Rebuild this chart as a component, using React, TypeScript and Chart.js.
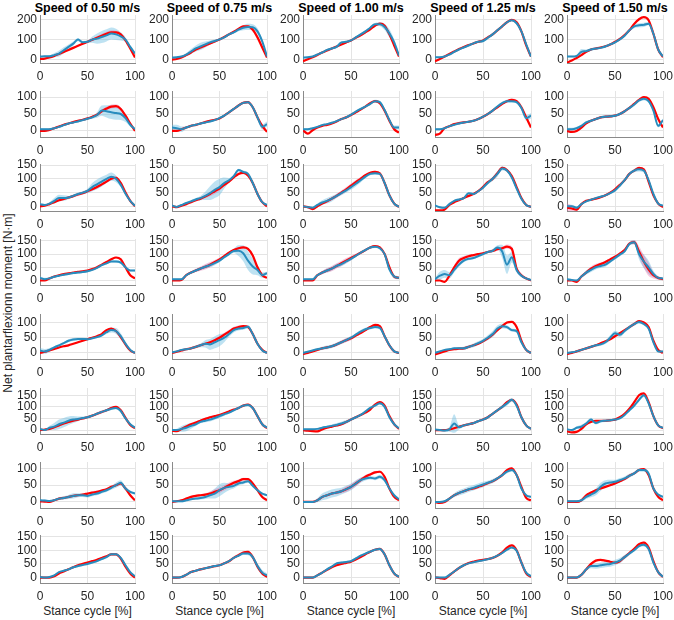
import React, { useEffect, useRef } from "react";
import { Chart, registerables } from "chart.js";

Chart.register(...registerables);

// ---------------- DATA ----------------
const pct = [0, 5, 10, 15, 20, 25, 30, 35, 40, 45, 50, 55, 60, 65, 70, 75, 80, 85, 90, 95, 100];
const speeds = ["0.50", "0.75", "1.00", "1.25", "1.50"];
const xTicks = [0, 50, 100];
const rowTicks = [
  [0, 100, 200],
  [0, 50, 100],
  [0, 50, 100, 150],
  [0, 50, 100, 150],
  [0, 50, 100],
  [0, 50, 100, 150],
  [0, 50, 100],
  [0, 50, 100, 150],
];
const rowYMin = [-17, -18, -17, -17, -20, -17, -18, -20];
const rowYMax = [221, 118, 154, 157, 128, 181, 119, 156];

// speed 0.50 m/s (rows 1..8)
const red050 = [
  [3, 5, 10, 18, 28, 38, 48, 58, 68, 78, 88, 98, 108, 118, 128, 135, 135, 125, 95, 55, 10],
  [0, 0, 3, 8, 13, 18, 22, 26, 30, 33, 37, 42, 48, 58, 66, 72, 73, 65, 45, 22, 0],
  [0, 2, 8, 15, 22, 27, 32, 37, 43, 48, 55, 62, 70, 80, 90, 100, 104, 85, 50, 20, 0],
  [0, 0, 8, 15, 20, 24, 27, 30, 33, 35, 38, 43, 50, 60, 70, 80, 87, 80, 50, 20, 8],
  [0, 4, 8, 13, 18, 22, 25, 30, 35, 40, 45, 50, 55, 62, 75, 80, 72, 52, 28, 8, 0],
  [0, 2, 5, 12, 20, 28, 35, 40, 45, 50, 55, 62, 70, 78, 85, 95, 100, 85, 52, 22, 8],
  [2, 1, 0, 5, 10, 12, 15, 18, 20, 22, 25, 28, 30, 34, 38, 45, 50, 55, 40, 20, 5],
  [0, 0, 0, 5, 15, 22, 30, 38, 45, 50, 55, 60, 65, 72, 78, 85, 85, 70, 40, 15, 0],
];
const blue050 = [
  [15, 16, 16, 22, 30, 46, 63, 79, 99, 86, 88, 99, 104, 112, 120, 129, 125, 115, 99, 63, 30],
  [5, 5, 5, 8, 12, 17, 22, 25, 28, 32, 36, 40, 47, 60, 58, 55, 53, 50, 38, 18, 5],
  [8, 5, 10, 20, 30, 30, 32, 38, 45, 50, 56, 70, 80, 90, 100, 108, 100, 78, 46, 20, 2],
  [10, 5, 8, 14, 18, 22, 25, 28, 30, 32, 35, 40, 48, 58, 65, 72, 72, 68, 50, 38, 38],
  [8, 5, 10, 18, 25, 32, 40, 44, 46, 46, 45, 48, 52, 58, 68, 75, 72, 55, 30, 10, 0],
  [5, 0, 10, 15, 25, 32, 40, 45, 48, 52, 55, 62, 70, 78, 85, 92, 95, 82, 50, 25, 10],
  [5, 4, 3, 5, 10, 12, 15, 18, 20, 20, 18, 22, 25, 30, 35, 42, 50, 57, 40, 30, 25],
  [2, 0, 2, 8, 20, 25, 30, 38, 42, 46, 50, 55, 60, 68, 75, 85, 85, 72, 45, 20, 5],
];
const blueSd050 = [
  [3, 4, 5, 10, 15, 15, 12, 10, 8, 6, 6, 15, 25, 30, 30, 30, 28, 20, 12, 8, 5],
  [3, 3, 3, 3, 3, 3, 3, 3, 3, 3, 3, 4, 8, 15, 18, 20, 20, 18, 12, 6, 3],
  [3, 3, 5, 10, 12, 10, 6, 5, 5, 5, 8, 15, 18, 18, 15, 15, 12, 8, 5, 3, 3],
  [6, 5, 4, 4, 4, 4, 4, 4, 4, 4, 4, 4, 4, 4, 4, 4, 5, 5, 5, 4, 4],
  [8, 8, 6, 4, 4, 4, 5, 5, 4, 4, 4, 4, 4, 5, 6, 8, 10, 10, 8, 5, 3],
  [3, 3, 8, 15, 20, 20, 18, 15, 10, 6, 5, 5, 5, 6, 6, 6, 6, 5, 4, 3, 3],
  [3, 3, 3, 3, 4, 5, 6, 8, 6, 5, 5, 5, 5, 5, 5, 6, 8, 8, 6, 4, 3],
  [3, 3, 3, 3, 3, 4, 4, 4, 4, 4, 4, 4, 4, 4, 4, 4, 4, 4, 4, 3, 3],
];
const redSd050 = [
  [2, 2, 2, 2, 3, 3, 3, 3, 3, 3, 4, 6, 8, 10, 10, 10, 8, 6, 4, 3, 3],
  [2, 2, 2, 2, 2, 2, 2, 2, 2, 2, 2, 3, 3, 4, 5, 6, 6, 5, 3, 2, 2],
  [2, 2, 2, 3, 3, 3, 4, 5, 5, 5, 5, 5, 5, 5, 5, 5, 5, 4, 3, 2, 2],
  [2, 2, 2, 2, 2, 2, 2, 2, 2, 2, 2, 2, 3, 3, 3, 3, 3, 3, 3, 2, 2],
  [2, 2, 2, 2, 2, 2, 2, 2, 2, 2, 2, 2, 3, 3, 3, 3, 3, 3, 2, 2, 2],
  [2, 2, 2, 2, 3, 3, 3, 3, 3, 3, 3, 4, 6, 6, 5, 4, 3, 3, 3, 2, 2],
  [2, 2, 2, 2, 2, 2, 2, 2, 2, 3, 3, 4, 4, 4, 3, 3, 3, 3, 2, 2, 2],
  [2, 2, 2, 2, 2, 2, 2, 2, 2, 2, 2, 2, 2, 2, 2, 2, 2, 2, 2, 2, 2],
];

// speed 0.75 m/s
const red075 = [
  [0, 3, 10, 22, 35, 50, 60, 70, 80, 90, 100, 112, 125, 138, 152, 165, 165, 148, 110, 60, 10],
  [0, 0, 5, 10, 15, 18, 22, 26, 30, 33, 37, 45, 55, 65, 75, 83, 85, 70, 40, 15, -3],
  [0, -3, 2, 8, 15, 22, 28, 36, 45, 55, 65, 78, 90, 105, 118, 122, 112, 85, 45, 15, 0],
  [0, 0, 2, 20, 30, 38, 45, 52, 60, 70, 80, 92, 105, 115, 122, 125, 120, 95, 50, 20, 10],
  [0, 4, 8, 12, 15, 20, 25, 30, 35, 42, 50, 60, 70, 80, 85, 88, 85, 62, 30, 10, 0],
  [-3, -5, 5, 15, 25, 32, 40, 48, 55, 60, 65, 72, 80, 88, 95, 105, 110, 95, 60, 25, 8],
  [0, 2, 5, 10, 15, 18, 20, 22, 25, 30, 35, 42, 50, 57, 62, 68, 68, 55, 35, 15, 5],
  [0, 0, 2, 10, 20, 25, 30, 34, 38, 42, 45, 52, 60, 72, 82, 92, 94, 75, 40, 15, 2],
];
const blue075 = [
  [10, 12, 15, 25, 40, 55, 65, 75, 85, 92, 100, 110, 125, 135, 148, 158, 162, 160, 140, 90, 15],
  [10, 8, 5, 10, 15, 18, 22, 25, 28, 32, 38, 45, 55, 65, 75, 83, 85, 70, 40, 12, 20],
  [3, -2, 5, 12, 18, 25, 30, 38, 48, 60, 70, 85, 95, 110, 132, 125, 118, 85, 45, 15, 5],
  [5, 5, 5, 20, 30, 38, 45, 52, 58, 66, 75, 88, 100, 112, 113, 103, 75, 53, 40, 20, 28],
  [2, 5, 10, 12, 15, 20, 25, 30, 28, 35, 42, 50, 62, 75, 80, 82, 86, 62, 30, 8, 0],
  [0, 0, 5, 10, 18, 25, 35, 40, 45, 52, 60, 68, 75, 85, 95, 105, 108, 95, 60, 25, 10],
  [2, 2, 2, 5, 8, 10, 12, 15, 20, 25, 35, 42, 45, 48, 55, 58, 62, 48, 35, 25, 20],
  [0, 0, 2, 10, 20, 25, 30, 34, 38, 42, 45, 52, 60, 72, 80, 88, 88, 75, 42, 18, 8],
];
const blueSd075 = [
  [3, 3, 5, 8, 12, 15, 18, 15, 10, 8, 6, 6, 6, 6, 8, 12, 15, 15, 15, 10, 5],
  [8, 10, 8, 4, 3, 3, 3, 3, 3, 3, 3, 3, 3, 3, 3, 3, 3, 4, 5, 8, 8],
  [3, 3, 3, 3, 4, 5, 8, 15, 25, 30, 30, 20, 8, 6, 5, 5, 6, 6, 5, 4, 3],
  [3, 3, 3, 3, 4, 5, 6, 8, 8, 8, 6, 5, 5, 8, 20, 30, 35, 30, 20, 10, 5],
  [3, 3, 3, 3, 4, 5, 6, 12, 18, 20, 20, 15, 10, 8, 6, 6, 6, 5, 4, 3, 3],
  [3, 6, 12, 15, 12, 8, 6, 6, 8, 8, 8, 6, 5, 5, 5, 5, 5, 5, 4, 3, 3],
  [3, 3, 3, 3, 3, 4, 5, 6, 10, 15, 18, 15, 10, 8, 6, 5, 5, 5, 4, 3, 3],
  [3, 3, 3, 3, 3, 3, 3, 3, 3, 3, 3, 3, 3, 3, 4, 5, 6, 8, 10, 10, 8],
];
const redSd075 = [
  [2, 2, 3, 4, 5, 6, 8, 8, 6, 5, 4, 4, 4, 4, 4, 4, 4, 4, 4, 3, 3],
  [2, 2, 2, 2, 2, 2, 2, 2, 2, 2, 2, 2, 3, 3, 3, 3, 3, 3, 2, 2, 2],
  [2, 2, 2, 3, 3, 4, 5, 6, 8, 10, 8, 6, 5, 4, 4, 4, 4, 4, 3, 2, 2],
  [2, 2, 2, 3, 4, 6, 8, 10, 10, 8, 6, 5, 4, 4, 4, 4, 4, 4, 3, 3, 3],
  [2, 2, 2, 2, 2, 2, 3, 3, 4, 5, 6, 6, 6, 6, 5, 4, 3, 3, 2, 2, 2],
  [2, 2, 2, 3, 3, 4, 5, 5, 5, 5, 4, 4, 4, 4, 4, 4, 3, 3, 3, 2, 2],
  [2, 2, 2, 2, 3, 3, 3, 4, 6, 8, 8, 8, 8, 6, 5, 4, 3, 3, 2, 2, 2],
  [2, 2, 2, 2, 2, 2, 2, 2, 2, 2, 2, 2, 2, 2, 3, 3, 3, 3, 2, 2, 2],
];

// speed 1.00 m/s
const red100 = [
  [-8, 2, 12, 23, 35, 45, 55, 65, 75, 85, 95, 108, 120, 135, 150, 168, 178, 168, 125, 70, 15],
  [2, -8, 2, 10, 15, 18, 22, 28, 35, 40, 47, 55, 63, 72, 82, 88, 82, 60, 30, 5, -5],
  [0, -3, -10, 0, 10, 18, 28, 38, 50, 62, 75, 88, 100, 113, 122, 125, 120, 85, 40, 10, -2],
  [0, 0, 0, 20, 30, 38, 45, 55, 65, 75, 85, 95, 105, 115, 125, 130, 125, 100, 50, 15, 10],
  [-3, 0, 5, 10, 15, 18, 22, 28, 35, 42, 48, 57, 65, 75, 85, 92, 88, 55, 25, 5, 0],
  [0, -3, -5, -6, 3, 10, 15, 20, 25, 35, 45, 55, 65, 75, 88, 110, 120, 105, 60, 25, 5],
  [0, 0, 0, 5, 15, 20, 25, 28, 32, 38, 45, 55, 65, 75, 82, 88, 90, 75, 40, 15, 5],
  [0, 0, 0, 8, 18, 28, 38, 45, 50, 54, 58, 66, 75, 85, 95, 102, 105, 85, 45, 15, 2],
];
const blue100 = [
  [10, 12, 15, 25, 35, 48, 55, 63, 85, 88, 95, 110, 125, 140, 158, 175, 175, 162, 130, 85, 20],
  [5, 5, 8, 12, 17, 20, 24, 29, 35, 40, 48, 57, 65, 72, 80, 88, 85, 62, 32, 10, 10],
  [0, -3, -5, 5, 14, 20, 28, 38, 48, 58, 70, 82, 95, 108, 118, 120, 118, 85, 40, 10, -2],
  [5, 5, 5, 20, 30, 38, 45, 55, 62, 72, 82, 93, 105, 115, 125, 128, 122, 100, 42, 15, 10],
  [0, 4, 8, 12, 15, 18, 22, 28, 35, 42, 50, 60, 70, 78, 82, 85, 82, 55, 25, 5, 0],
  [3, 3, 3, 5, 10, 14, 18, 22, 28, 35, 45, 55, 65, 80, 95, 105, 115, 100, 55, 25, 8],
  [0, 0, 0, 5, 15, 20, 25, 28, 32, 38, 45, 55, 65, 70, 72, 70, 75, 65, 40, 20, 8],
  [0, 0, 0, 8, 18, 30, 40, 52, 55, 57, 60, 70, 80, 88, 95, 102, 105, 85, 45, 15, 2],
];
const blueSd100 = [
  [3, 3, 3, 4, 5, 5, 6, 6, 5, 5, 6, 6, 5, 5, 5, 6, 10, 15, 20, 15, 6],
  [3, 3, 3, 3, 3, 3, 3, 3, 3, 3, 3, 3, 3, 3, 4, 4, 4, 4, 5, 6, 6],
  [3, 3, 3, 5, 8, 10, 10, 8, 8, 8, 10, 10, 8, 6, 5, 5, 5, 5, 5, 4, 3],
  [3, 3, 3, 4, 6, 8, 8, 8, 8, 8, 6, 5, 5, 5, 5, 5, 5, 6, 8, 8, 5],
  [3, 3, 3, 4, 5, 6, 6, 6, 6, 6, 6, 5, 5, 5, 5, 5, 5, 5, 4, 3, 3],
  [3, 3, 3, 3, 4, 5, 6, 8, 8, 8, 6, 5, 5, 6, 6, 6, 6, 5, 4, 3, 3],
  [3, 3, 3, 6, 10, 12, 12, 12, 10, 10, 10, 10, 8, 6, 5, 5, 6, 6, 5, 4, 3],
  [3, 3, 3, 3, 3, 4, 4, 4, 4, 4, 4, 4, 4, 4, 4, 4, 4, 4, 4, 3, 3],
];
const redSd100 = [
  [3, 3, 3, 3, 3, 3, 3, 3, 3, 3, 3, 3, 3, 3, 3, 3, 4, 4, 4, 3, 3],
  [2, 2, 2, 2, 2, 2, 2, 2, 2, 2, 2, 2, 2, 2, 3, 3, 3, 3, 2, 2, 2],
  [2, 2, 2, 3, 4, 5, 6, 7, 8, 8, 8, 8, 7, 5, 4, 4, 4, 4, 4, 3, 3],
  [2, 2, 2, 3, 6, 8, 10, 10, 10, 10, 8, 6, 5, 4, 4, 4, 4, 4, 5, 4, 3],
  [2, 2, 2, 2, 3, 3, 4, 5, 6, 6, 6, 5, 4, 4, 4, 3, 3, 3, 2, 2, 2],
  [2, 2, 2, 2, 2, 2, 3, 3, 4, 4, 4, 4, 3, 3, 3, 3, 3, 3, 3, 2, 2],
  [2, 2, 2, 2, 3, 3, 4, 5, 6, 8, 8, 8, 6, 5, 4, 4, 4, 3, 3, 2, 2],
  [2, 2, 2, 2, 2, 2, 2, 2, 2, 2, 2, 2, 2, 2, 2, 2, 2, 2, 2, 2, 2],
];

// speed 1.25 m/s
const red125 = [
  [-8, 3, 15, 28, 40, 52, 62, 72, 80, 88, 95, 110, 125, 145, 165, 185, 197, 185, 140, 70, 15],
  [-12, -8, 8, 14, 20, 23, 25, 27, 30, 35, 42, 50, 60, 70, 80, 88, 92, 88, 70, 40, 10],
  [-15, -15, -12, 5, 15, 22, 30, 38, 45, 55, 70, 88, 100, 120, 140, 132, 110, 70, 30, 5, -2],
  [0, 0, -5, 18, 50, 75, 85, 92, 96, 100, 103, 108, 112, 118, 122, 128, 120, 45, 20, 8, 0],
  [-5, 0, 5, 10, 12, 14, 15, 20, 25, 30, 38, 48, 60, 75, 88, 100, 102, 85, 40, 10, 0],
  [0, 0, 0, 3, 8, 14, 20, 25, 30, 38, 45, 55, 70, 85, 100, 120, 130, 110, 55, 20, 5],
  [0, -3, 0, 10, 20, 27, 32, 37, 40, 45, 50, 56, 62, 70, 80, 95, 100, 80, 45, 12, 5],
  [0, -2, -5, 8, 22, 35, 45, 53, 58, 62, 65, 68, 72, 80, 92, 110, 118, 100, 55, 15, 2],
];
const blue125 = [
  [12, 12, 15, 25, 38, 50, 60, 70, 80, 88, 92, 108, 125, 145, 165, 185, 195, 180, 140, 75, 15],
  [5, 5, 8, 14, 18, 22, 25, 27, 30, 35, 42, 50, 60, 72, 82, 88, 88, 85, 68, 38, 45],
  [3, -3, -5, 8, 20, 25, 30, 48, 45, 55, 68, 85, 100, 118, 138, 130, 105, 65, 28, 5, -2],
  [5, 18, 25, 20, 40, 60, 75, 82, 85, 92, 100, 108, 112, 125, 110, 60, 88, 40, 18, 8, 2],
  [0, 5, 10, 12, 15, 15, 15, 20, 25, 32, 40, 50, 62, 80, 88, 85, 75, 72, 35, 10, 0],
  [2, 0, -2, 3, 28, 12, 20, 25, 30, 38, 45, 55, 70, 85, 100, 115, 130, 105, 55, 20, 5],
  [0, 0, 2, 10, 20, 27, 32, 38, 42, 47, 52, 57, 62, 70, 80, 90, 95, 80, 40, 20, 15],
  [0, 0, 0, 10, 22, 35, 45, 52, 56, 60, 63, 67, 72, 80, 90, 102, 110, 98, 55, 18, 5],
];
const blueSd125 = [
  [3, 3, 3, 3, 4, 4, 4, 4, 5, 5, 6, 8, 8, 6, 5, 5, 5, 5, 6, 5, 4],
  [3, 3, 3, 3, 3, 3, 3, 3, 3, 3, 3, 3, 4, 4, 4, 4, 4, 4, 5, 8, 8],
  [4, 4, 4, 4, 4, 4, 4, 4, 4, 4, 5, 6, 8, 10, 8, 6, 5, 5, 4, 4, 3],
  [5, 15, 15, 12, 10, 8, 6, 5, 5, 5, 5, 5, 6, 8, 25, 35, 20, 10, 6, 4, 3],
  [3, 3, 3, 3, 4, 4, 5, 5, 6, 6, 6, 8, 10, 10, 8, 6, 5, 5, 4, 3, 3],
  [3, 3, 6, 10, 40, 10, 5, 5, 5, 5, 5, 6, 6, 6, 8, 10, 8, 6, 4, 3, 3],
  [3, 3, 3, 4, 6, 8, 8, 8, 8, 8, 8, 6, 6, 5, 5, 5, 5, 5, 4, 3, 3],
  [3, 3, 3, 3, 3, 3, 3, 3, 3, 3, 3, 3, 3, 3, 4, 4, 4, 4, 4, 3, 3],
];
const redSd125 = [
  [2, 2, 2, 2, 2, 2, 2, 2, 2, 2, 2, 3, 3, 3, 3, 3, 3, 3, 3, 2, 2],
  [3, 3, 3, 3, 3, 3, 3, 3, 3, 3, 3, 3, 3, 3, 3, 3, 4, 4, 3, 3, 2],
  [2, 2, 2, 2, 2, 2, 2, 2, 2, 2, 3, 3, 3, 3, 4, 4, 4, 3, 3, 2, 2],
  [2, 2, 2, 4, 8, 10, 8, 5, 4, 4, 4, 4, 4, 5, 6, 8, 10, 10, 6, 4, 3],
  [2, 2, 2, 2, 2, 2, 2, 2, 2, 2, 2, 2, 3, 3, 3, 3, 3, 3, 2, 2, 2],
  [2, 2, 2, 2, 2, 2, 2, 2, 2, 2, 2, 2, 3, 3, 3, 4, 4, 4, 3, 2, 2],
  [2, 2, 2, 2, 2, 2, 2, 2, 2, 2, 2, 2, 2, 2, 3, 3, 3, 3, 2, 2, 2],
  [2, 2, 2, 2, 2, 2, 2, 2, 2, 2, 2, 2, 2, 2, 3, 3, 3, 3, 2, 2, 2],
];

// speed 1.50 m/s
const red150 = [
  [-15, -5, 8, 22, 38, 50, 55, 60, 66, 75, 88, 102, 122, 145, 177, 200, 210, 195, 128, 50, 12],
  [0, -3, 0, 10, 22, 30, 35, 40, 42, 43, 45, 50, 58, 68, 80, 92, 100, 95, 70, 35, 10],
  [-5, -8, -12, 8, 20, 24, 28, 33, 40, 50, 62, 78, 95, 118, 130, 140, 135, 90, 40, 10, -3],
  [0, 0, -5, 15, 30, 45, 55, 62, 70, 80, 90, 102, 115, 140, 145, 110, 72, 42, 20, 10, 5],
  [-3, 0, 5, 10, 15, 20, 25, 32, 38, 45, 55, 65, 75, 85, 95, 105, 100, 85, 40, 10, 0],
  [-5, -10, -8, 5, 25, 35, 40, 40, 40, 42, 45, 55, 70, 92, 120, 150, 158, 120, 60, 20, 8],
  [0, 0, 0, 5, 20, 28, 35, 40, 45, 50, 55, 62, 68, 78, 85, 95, 98, 80, 40, 15, 5],
  [0, 0, 0, 10, 30, 50, 62, 65, 62, 58, 55, 60, 75, 90, 105, 122, 128, 110, 60, 20, 2],
];
const blue150 = [
  [15, 15, 18, 38, 42, 50, 55, 58, 65, 75, 85, 100, 118, 145, 165, 170, 172, 178, 128, 50, 15],
  [5, 5, 8, 15, 25, 30, 35, 40, 42, 43, 45, 50, 58, 68, 78, 90, 95, 88, 60, 15, 32],
  [0, 0, -5, 8, 18, 24, 30, 35, 40, 48, 58, 75, 95, 118, 130, 135, 130, 95, 45, 10, 3],
  [5, 2, 0, 15, 30, 40, 50, 55, 60, 72, 85, 98, 110, 138, 145, 100, 72, 50, 25, 10, 8],
  [0, 2, 5, 10, 15, 20, 25, 28, 35, 50, 65, 60, 72, 85, 95, 102, 95, 80, 35, 5, 5],
  [3, 0, 10, 15, 28, 45, 30, 38, 40, 42, 45, 50, 65, 85, 105, 130, 150, 115, 60, 20, 10],
  [2, 2, 2, 5, 15, 22, 30, 45, 55, 58, 60, 65, 70, 78, 85, 95, 95, 85, 40, 22, 15],
  [0, 0, 0, 10, 30, 42, 42, 45, 48, 50, 55, 62, 75, 88, 100, 115, 120, 105, 55, 20, 3],
];
const blueSd150 = [
  [4, 4, 5, 15, 8, 6, 6, 6, 6, 6, 6, 6, 6, 8, 10, 10, 10, 8, 6, 5, 4],
  [4, 4, 4, 4, 4, 4, 4, 4, 4, 4, 4, 4, 4, 5, 5, 5, 5, 5, 5, 5, 5],
  [6, 6, 5, 4, 4, 4, 4, 4, 4, 4, 5, 5, 5, 6, 6, 8, 8, 8, 5, 4, 3],
  [4, 4, 4, 5, 8, 8, 8, 8, 8, 6, 6, 6, 6, 6, 8, 20, 25, 25, 12, 6, 4],
  [3, 3, 3, 3, 4, 4, 4, 5, 6, 8, 8, 8, 6, 6, 6, 6, 5, 5, 4, 3, 3],
  [4, 4, 6, 8, 8, 8, 6, 5, 5, 5, 5, 5, 6, 6, 8, 8, 8, 6, 5, 4, 3],
  [3, 3, 3, 4, 6, 8, 10, 12, 10, 8, 6, 6, 6, 6, 5, 5, 5, 6, 5, 4, 3],
  [3, 3, 3, 4, 6, 8, 10, 10, 10, 10, 10, 10, 8, 6, 5, 5, 6, 6, 5, 4, 3],
];
const redSd150 = [
  [3, 3, 3, 3, 3, 3, 3, 3, 3, 3, 3, 3, 3, 3, 3, 3, 3, 3, 3, 3, 3],
  [3, 3, 3, 3, 3, 3, 3, 3, 3, 3, 3, 3, 3, 3, 3, 3, 3, 3, 3, 3, 3],
  [15, 12, 6, 3, 3, 3, 3, 3, 3, 3, 3, 3, 3, 3, 3, 3, 3, 3, 3, 3, 3],
  [2, 2, 2, 3, 5, 8, 8, 6, 5, 5, 5, 5, 5, 6, 8, 20, 25, 25, 12, 6, 4],
  [2, 2, 2, 2, 2, 2, 2, 2, 2, 2, 2, 2, 3, 3, 3, 3, 3, 3, 2, 2, 2],
  [2, 2, 2, 2, 2, 2, 2, 2, 2, 2, 2, 2, 2, 2, 3, 3, 3, 3, 2, 2, 2],
  [2, 2, 2, 2, 2, 2, 2, 2, 2, 2, 2, 2, 2, 2, 3, 3, 3, 3, 2, 2, 2],
  [2, 2, 2, 2, 2, 2, 2, 2, 2, 2, 3, 3, 3, 3, 4, 4, 4, 3, 2, 2, 2],
];

const redByCol = [red050, red075, red100, red125, red150];
const blueByCol = [blue050, blue075, blue100, blue125, blue150];
const redSdByCol = [redSd050, redSd075, redSd100, redSd125, redSd150];
const blueSdByCol = [blueSd050, blueSd075, blueSd100, blueSd125, blueSd150];

// ---------------- LAYOUT / STYLE ----------------
const FONT = '"Liberation Sans", Arial, Helvetica, sans-serif';
const ROW_TOP = [15, 91, 164, 239, 314, 388, 462, 535];
const ROW_BOTTOM = [63, 137, 211, 285, 359, 434, 508, 583];
const COL_LEFT = [40, 172, 303, 435, 567];
const COL_RIGHT = [135, 267, 399, 531, 663];
const PADL = 40;
const PADT = 8;
const PADR = 14;
const PADB = 26;
const RED = "#ff0000";
const BLUE = "rgb(40,140,190)";
const PINK = "rgba(230,100,160,0.35)";
const LIGHTBLUE = "rgba(100,185,225,0.42)";
const GRID = "#e4e4e4";
const AXIS = "#8a8a8a";
const TEXT = "#262626";

function Panel({ r, c }: { r: number; c: number }) {
  const ref = useRef<HTMLCanvasElement | null>(null);
  const top = ROW_TOP[r];
  const bottom = ROW_BOTTOM[r];
  const left = COL_LEFT[c];
  const right = COL_RIGHT[c];
  const w = right - left;
  const h = bottom - top;
  const cw = PADL + w + PADR;
  const ch = PADT + h + PADB;

  useEffect(() => {
    if (!ref.current) return;
    const red = redByCol[c][r];
    const blue = blueByCol[c][r];
    const rsd = redSdByCol[c][r];
    const bsd = blueSdByCol[c][r];
    const pts = (f: (i: number) => number) => pct.map((x, i) => ({ x, y: f(i) }));
    const band = {
      borderColor: "transparent",
      borderWidth: 0,
      pointRadius: 0,
      cubicInterpolationMode: "monotone" as const,
    };
    const chart = new Chart(ref.current, {
      type: "line",
      data: {
        datasets: [
          {
            data: pts((i) => blue[i]),
            borderColor: BLUE,
            borderWidth: 2,
            pointRadius: 0,
            fill: false,
            cubicInterpolationMode: "monotone",
          },
          {
            data: pts((i) => red[i]),
            borderColor: RED,
            borderWidth: 2.2,
            pointRadius: 0,
            fill: false,
            cubicInterpolationMode: "monotone",
          },
          { ...band, data: pts((i) => red[i] + rsd[i]), fill: "+1", backgroundColor: PINK },
          { ...band, data: pts((i) => red[i] - rsd[i]), fill: false },
          { ...band, data: pts((i) => blue[i] + bsd[i]), fill: "+1", backgroundColor: LIGHTBLUE },
          { ...band, data: pts((i) => blue[i] - bsd[i]), fill: false },
        ],
      },
      options: {
        responsive: false,
        animation: false,
        devicePixelRatio: 1,
        events: [],
        layout: { padding: { left: 0, top: PADT, right: PADR, bottom: 0 } },
        plugins: { legend: { display: false }, tooltip: { enabled: false }, title: { display: false } },
        scales: {
          x: {
            type: "linear",
            min: 0,
            max: 100,
            afterBuildTicks: (s: any) => {
              s.ticks = xTicks.map((v) => ({ value: v }));
            },
            afterFit: (s: any) => {
              s.height = PADB;
              s.paddingLeft = 0;
              s.paddingRight = 0;
            },
            ticks: {
              font: { family: FONT, size: 12 },
              color: TEXT,
              padding: 6,
              maxRotation: 0,
              autoSkip: false,
            },
            grid: { color: GRID, drawTicks: false, lineWidth: 1 },
            border: { display: true, color: AXIS, width: 1 },
          },
          y: {
            type: "linear",
            min: rowYMin[r],
            max: rowYMax[r],
            afterBuildTicks: (s: any) => {
              s.ticks = rowTicks[r].map((v) => ({ value: v }));
            },
            afterFit: (s: any) => {
              s.width = PADL;
              s.paddingTop = 0;
              s.paddingBottom = 0;
            },
            ticks: {
              font: { family: FONT, size: 12 },
              color: TEXT,
              padding: 3,
              autoSkip: false,
            },
            grid: { color: GRID, drawTicks: false, lineWidth: 1 },
            border: { display: true, color: AXIS, width: 1 },
          },
        },
      } as any,
    });
    return () => chart.destroy();
  }, [r, c]);

  return (
    <canvas
      ref={ref}
      width={cw}
      height={ch}
      style={{ position: "absolute", left: left - PADL, top: top - PADT, width: cw, height: ch }}
    />
  );
}

export default function App() {
  const rows = [0, 1, 2, 3, 4, 5, 6, 7];
  const cols = [0, 1, 2, 3, 4];
  return (
    <div
      style={{
        position: "absolute",
        left: 0,
        top: 0,
        width: 674,
        height: 620,
        background: "#ffffff",
        overflow: "hidden",
        fontFamily: FONT,
      }}
    >
      {cols.map((c) => (
        <div
          key={"t" + c}
          style={{
            position: "absolute",
            left: (COL_LEFT[c] + COL_RIGHT[c]) / 2 - 80,
            width: 160,
            top: 1,
            lineHeight: "14px",
            textAlign: "center",
            fontWeight: "bold",
            fontSize: 12.5,
            color: "#000",
            whiteSpace: "nowrap",
          }}
        >
          {"Speed of " + speeds[c] + " m/s"}
        </div>
      ))}
      {cols.map((c) => (
        <div
          key={"x" + c}
          style={{
            position: "absolute",
            left: (COL_LEFT[c] + COL_RIGHT[c]) / 2 - 80,
            width: 160,
            top: 604,
            lineHeight: "14px",
            textAlign: "center",
            fontSize: 12,
            color: TEXT,
            whiteSpace: "nowrap",
          }}
        >
          Stance cycle [%]
        </div>
      ))}
      <div
        style={{
          position: "absolute",
          left: 8 - 130,
          top: 303 - 7,
          width: 260,
          lineHeight: "14px",
          textAlign: "center",
          fontSize: 12,
          color: TEXT,
          whiteSpace: "nowrap",
          transform: "rotate(-90deg)",
          transformOrigin: "50% 50%",
        }}
      >
        Net plantarflexionn moment [N·m]
      </div>
      {rows.map((r) => cols.map((c) => <Panel key={r + "-" + c} r={r} c={c} />))}
    </div>
  );
}
